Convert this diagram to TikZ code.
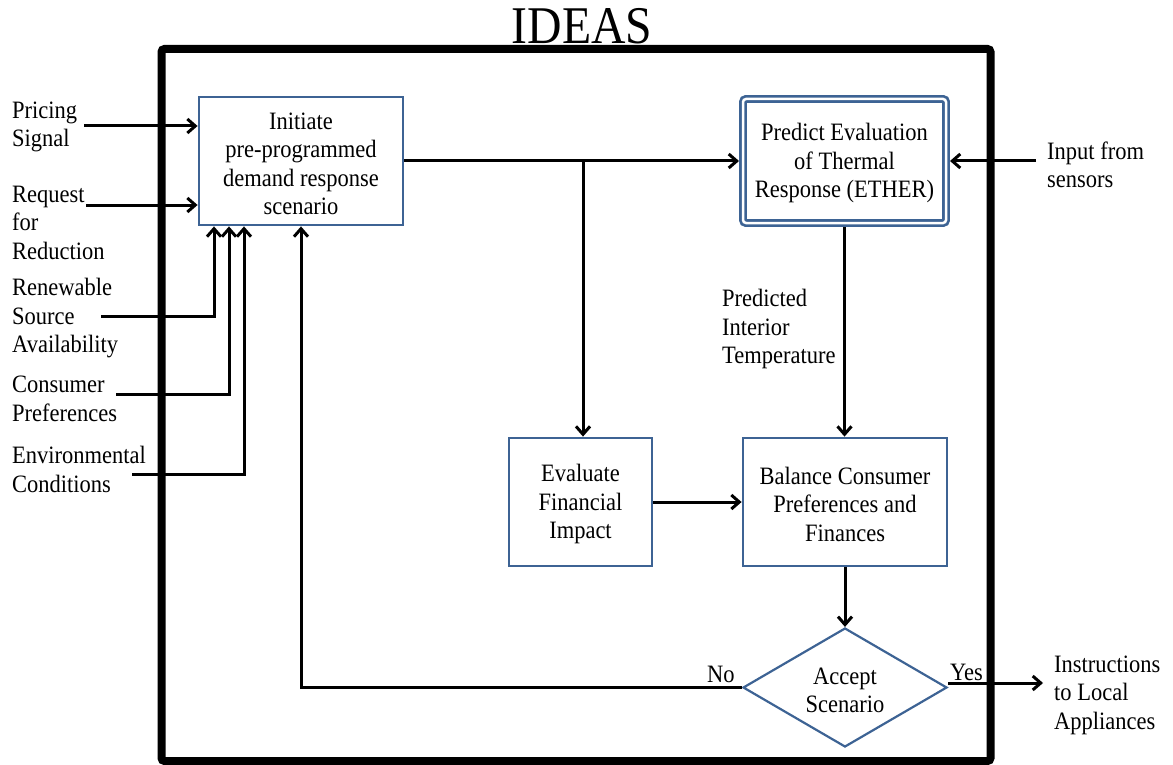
\documentclass[tikz,border=0pt]{standalone}
\usepackage{fontspec}
\setmainfont{Liberation Serif}[FakeStretch=0.9]
\usetikzlibrary{shapes.geometric,arrows.meta,calc}

\definecolor{boxblue}{HTML}{3D6394}
% strut that lowers the text block slightly inside its box
\newcommand{\toprule}{\rule{0pt}{22pt}}

\begin{document}
\begin{tikzpicture}[x=1pt,y=-1pt,
  txt/.style={font=\fontsize{25}{28.5}\selectfont, inner sep=0pt},
  lbl/.style={txt, align=left, anchor=west},
  stepbox/.style={txt, draw=boxblue, line width=2.8pt, align=center,
    minimum width=204pt, minimum height=128pt},
  decision/.style={txt, draw=boxblue, line width=2.2pt, align=center,
    diamond, shape aspect=1.7, minimum width=204pt, minimum height=119pt},
  conn/.style={line width=3pt, -{Straight Barb[length=8pt,width=14pt]}}]

\useasboundingbox (0,0) rectangle (1173,765);

% title and system boundary
\node[font=\fontsize{53}{60}\selectfont, inner sep=0pt] (title) at (582,26) {IDEAS};
\draw[line width=8pt, rounded corners=3pt] (161.5,49) rectangle (990.5,761);

% process blocks
\node[stepbox] (init) at (301,161) {\toprule Initiate\\pre-programmed\\demand response\\scenario};
\node[stepbox, double=white, double distance=2.5pt, line width=2.7pt,
      rounded corners=3pt, minimum width=203pt, minimum height=124pt,
      outer sep=4pt] (ether) at (844.5,161)
      {\toprule Predict Evaluation\\of Thermal\\Response (ETHER)};
\node[stepbox, minimum width=143pt] (fin) at (580.5,502) {\toprule Evaluate\\Financial\\Impact};
\node[stepbox] (bal) at (845,502) {\toprule Balance Consumer\\Preferences and\\Finances};
\node[decision] (dec) at (845,687.5) {\toprule Accept\\Scenario};

% external inputs and outputs
\node[lbl] (pricing) at (12,127) {Pricing\\Signal};
\node[lbl] (request) at (12,222.5) {Request\\for\\Reduction};
\node[lbl] (renew) at (12,318.5) {Renewable\\Source\\Availability};
\node[lbl] (consumer) at (12,399) {Consumer\\Preferences};
\node[lbl] (environ) at (12,469.5) {Environmental\\Conditions};
\node[lbl] (sensors) at (1047,165) {Input from\\sensors};
\node[lbl] (instr) at (1054,695) {Instructions\\to Local\\Appliances};
\node[lbl] (predtemp) at (722,329) {Predicted\\Interior\\Temperature};
\node[txt, anchor=west] (no) at (707,674) {No};
\node[txt, anchor=west] (yes) at (950,672.5) {Yes};

% connector start points
\coordinate (pin) at (84,126);
\coordinate (rqin) at (86,205);
\coordinate (rnin) at (101,316);
\coordinate (cpin) at (116,394);
\coordinate (ecin) at (132,474);
\coordinate (snin) at (1036,161);
\coordinate (split) at (583,161);
\coordinate (yout) at (1043,683);

% input arrows
\draw[conn] (pin) -- (pin -| init.west);
\draw[conn] (rqin) -- (rqin -| init.west);
\draw[conn] (rnin) -| ([xshift=-87pt]init.south);
\draw[conn] (cpin) -| ([xshift=-72pt]init.south);
\draw[conn] (ecin) -| ([xshift=-57pt]init.south);

% main flow
\draw[conn] (init.east) -- (ether.west);
\draw[conn] (split) -- (split |- fin.north);
\draw[conn] (snin) -- (ether.east);
\draw[conn] (ether.south) -- (ether.south |- bal.north);
\draw[conn] (fin.east) -- (bal.west);
\draw[conn] (bal.south) -- (dec.north);
\draw[conn] (dec.west) -| (init.south);
\draw[conn] ([yshift=4.5pt]dec.east) -- (yout);

\end{tikzpicture}
\end{document}
